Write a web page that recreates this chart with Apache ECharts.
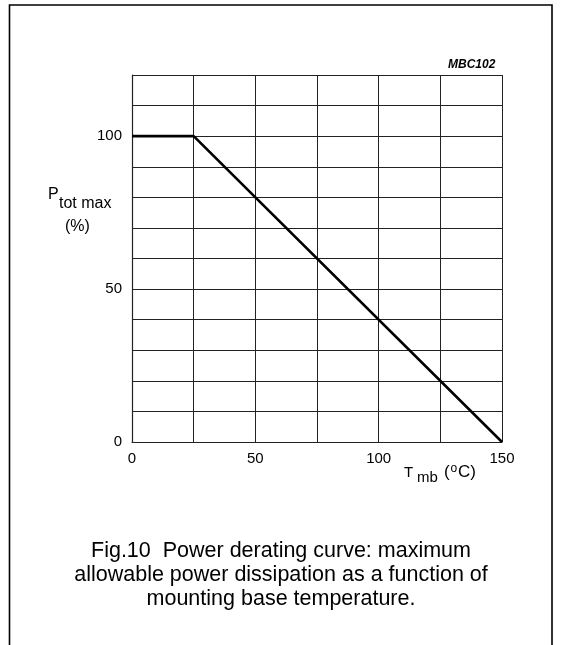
<!DOCTYPE html>
<html>
<head>
<meta charset="utf-8">
<script src="https://cdn.jsdelivr.net/npm/echarts@6/dist/echarts.min.js"></script>
<style>
html,body{margin:0;padding:0;background:#fff;}
#chart{width:562px;height:645px;}
</style>
</head>
<body>
<div id="chart"></div>
<script>
// Data
const curveX = [0, 25, 150];
const curveY = [100, 100, 0];
const xTickLabels = [0, 50, 100, 150];
const yTickLabels = [0, 50, 100];
const captionLines = [
  'Fig.10  Power derating curve: maximum',
  'allowable power dissipation as a function of',
  'mounting base temperature.'
];

const chart = echarts.init(document.getElementById('chart'), null, {renderer: 'canvas'});
const font = '"Liberation Sans", Arial, Helvetica, sans-serif';
const gridColor = '#222';

const option = {
  backgroundColor: '#fff',
  animation: false,
  grid: {left: 132, right: 60, top: 75, bottom: 203, show: false},
  xAxis: {
    type: 'value', min: 0, max: 150, interval: 25,
    axisLine: {show: true, onZero: false, lineStyle: {color: gridColor, width: 1.2}},
    axisTick: {show: false},
    splitLine: {show: true, lineStyle: {color: gridColor, width: 1}},
    axisLabel: {
      show: true, margin: 9, color: '#000', fontSize: 15, fontFamily: font,
      formatter: v => xTickLabels.includes(v) ? String(v) : ''
    }
  },
  yAxis: {
    type: 'value', min: 0, max: 120, interval: 10,
    axisLine: {show: true, onZero: false, lineStyle: {color: gridColor, width: 1.2}},
    axisTick: {show: false},
    splitLine: {show: true, lineStyle: {color: gridColor, width: 1}},
    axisLabel: {
      show: true, margin: 10, color: '#000', fontSize: 15, fontFamily: font,
      formatter: v => yTickLabels.includes(v) ? String(v) : ''
    }
  },
  series: [{
    type: 'line',
    data: curveX.map((x, i) => [x, curveY[i]]),
    symbol: 'none',
    lineStyle: {color: '#000', width: 2.6},
    z: 5
  }],
  graphic: [
    {type: 'polyline', shape: {points: [[9.5, 645], [9.5, 5], [552, 5], [552, 645]]},
     style: {stroke: '#000', lineWidth: 1.6, fill: null}, silent: true},
    {type: 'text', left: 448, top: 59,
     style: {text: 'MBC102', font: 'italic bold 12px ' + font, fill: '#000'}},
    {type: 'text', left: 48, top: 187,
     style: {text: 'P', font: '16px ' + font, fill: '#000'}},
    {type: 'text', left: 59, top: 196,
     style: {text: 'tot max', font: '16px ' + font, fill: '#000'}},
    {type: 'text', left: 65, top: 219,
     style: {text: '(%)', font: '16px ' + font, fill: '#000'}},
    {type: 'text', left: 404, top: 465,
     style: {text: 'T', font: '15px ' + font, fill: '#000'}},
    {type: 'text', left: 417, top: 470,
     style: {text: 'mb', font: '15px ' + font, fill: '#000'}},
    {type: 'text', left: 444, top: 464,
     style: {text: '(', font: '17px ' + font, fill: '#000'}},
    {type: 'text', left: 450.5, top: 463,
     style: {text: 'o', font: '12px ' + font, fill: '#000'}},
    {type: 'text', left: 458, top: 464,
     style: {text: 'C)', font: '17px ' + font, fill: '#000'}},
    ...captionLines.map((t, i) => ({
      type: 'text', left: 'center', top: 540 + i * 24,
      style: {text: t, font: '21.5px ' + font, fill: '#000', textAlign: 'center'}
    }))
  ]
};
chart.setOption(option);
</script>
</body>
</html>
